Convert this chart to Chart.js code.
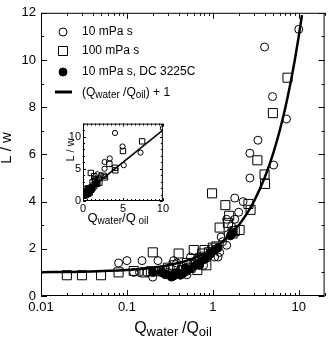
<!DOCTYPE html>
<html>
<head>
<meta charset="utf-8">
<script src="https://cdn.jsdelivr.net/npm/chart.js@4.4.0/dist/chart.umd.min.js"></script>
<style>
html, body { margin: 0; padding: 0; background: #fff; }
#wrap { position: relative; width: 332px; height: 338px; }
#main { position: absolute; left: 0; top: 0; }
#inset { position: absolute; left: 55px; top: 115px; }
</style>
</head>
<body>
<div id="wrap">
  <canvas id="main" width="332" height="338"></canvas>
  <canvas id="inset" width="115" height="115"></canvas>
</div>
<script>
// 10 mPa s (open circles)
const visc10X = [10, 4.0, 4.95, 7.2, 3.35, 2.7, 5.1, 2.7, 1.8, 2.25, 2.0, 1.45, 1.8, 1.65, 1.25, 1.45, 0.08, 0.1, 0.15, 0.23,
  0.2, 0.35, 0.5, 0.55, 0.12, 0.14, 0.17, 0.28, 0.3, 0.38, 0.45, 0.6, 0.7, 0.78, 0.85, 0.9, 1.05, 1.15, 1.2, 1.3,
  0.25, 0.32, 0.42, 0.65, 0.75, 1.0, 0.95, 1.1, 1.5, 1.7];
const visc10Y = [11.3, 10.55, 8.45, 7.5, 6.6, 6.05, 5.55, 5.0, 4.15, 4.0, 3.55, 3.25, 3.25, 2.95, 2.5, 2.15, 1.4, 1.5, 1.5, 1.5,
  0.8, 1.5, 0.9, 1.65, 1.0, 1.0, 1.0, 0.9, 1.0, 1.4, 1.25, 1.4, 1.3, 1.3, 1.6, 1.75, 1.65, 1.65, 1.85, 2.3,
  1.1, 1.2, 1.1, 1.55, 1.7, 1.9, 2.0, 2.0, 2.6, 2.7];

// 100 mPa s (open squares)
const visc100X = [0.02, 0.03, 0.05, 0.08, 0.12, 0.2, 0.16, 0.19, 0.23, 0.27, 0.4, 0.6, 0.44, 0.55, 0.66, 0.8, 0.84, 1.0, 0.98, 1.4,
  1.2, 1.5, 2.05, 2.75, 2.6, 3.3, 4.0, 4.05, 5.0, 7.4, 1.55, 1.7, 1.8, 0.5, 0.7, 0.9, 0.35, 0.3, 0.75, 1.1];
const visc100Y = [0.88, 0.88, 0.88, 1.0, 1.06, 1.85, 1.0, 1.05, 1.05, 1.05, 1.8, 1.95, 1.1, 1.2, 1.1, 1.95, 1.3, 2.05, 4.35, 3.85,
  2.9, 3.1, 2.8, 3.65, 3.9, 5.75, 5.15, 4.75, 7.75, 9.25, 3.4, 2.65, 2.75, 1.4, 1.6, 1.85, 1.3, 1.2, 1.8, 2.1];

// 10 mPa s, DC 3225C (filled circles)
const dcX = [0.33, 0.35, 0.42, 0.45, 0.3, 0.27, 0.38, 0.5, 0.55, 0.6, 0.65, 0.72, 0.8, 0.88, 0.95, 1.05, 1.15, 1.6, 1.7, 0.48, 0.7, 0.25, 0.2];
const dcY = [0.8, 0.85, 0.88, 0.95, 0.9, 0.95, 1.0, 1.05, 1.15, 1.25, 1.35, 1.45, 1.55, 1.7, 1.8, 1.95, 2.05, 2.55, 2.65, 1.2, 1.3, 1.0, 1.0];

// (Qwater/Qoil) + 1 curve
const lineX = [0.01, 0.03, 0.1, 0.2, 0.3, 0.5, 0.7, 1, 1.5, 2, 2.5, 3, 4, 5, 6, 7, 8, 9, 10, 10.9];
const lineY = [1.01, 1.03, 1.1, 1.2, 1.3, 1.5, 1.7, 2, 2.5, 3, 3.5, 4, 5, 6, 7, 8, 9, 10, 11, 11.9];
const insetLineX = [0, 10];
const insetLineY = [1, 11];

// tick labels
const mainXTicks = [0.01, 0.1, 1, 10];
const insetTicks = [0, 5, 10];
const legendLabels = ['10 mPa s', '100 mPa s', '10 mPa s, DC 3225C'];

const FONT = "'Liberation Sans', Arial, sans-serif";

let pts = (xs, ys) => xs.map((x, i) => ({x: x, y: ys[i]}));

// minor ticks for the log axis
let logMinor = [];
[0.01, 0.1, 1, 10].forEach(d => {
    for (let k = 2; k <= 9; k++) {
        if (d * k <= 20) logMinor.push(+(d * k).toPrecision(3));
    }
});
let range = (a, b, s) => { let r = []; for (let v = a; v <= b + 1e-9; v += s) r.push(+v.toFixed(3)); return r; };

// draws text made of pieces, some lowered and smaller (subscripts)
let drawRich = (ctx, parts, x, y, align) => {
    let w = 0;
    parts.forEach(p => { ctx.font = p[1] + 'px ' + FONT; w += ctx.measureText(p[0]).width; });
    let cx = align === 'center' ? x - w / 2 : x;
    ctx.textAlign = 'left';
    ctx.textBaseline = 'alphabetic';
    parts.forEach(p => {
        ctx.font = p[1] + 'px ' + FONT;
        ctx.fillText(p[0], cx, y + (p[2] || 0));
        cx += ctx.measureText(p[0]).width;
    });
};

// frame + inward ticks on all four sides, then titles / legend
const frameTicks = {
    id: 'frameTicks',
    afterDatasetsDraw(chart, args, o) {
        const {ctx, chartArea: a, scales: {x, y}} = chart;
        ctx.save();
        ctx.strokeStyle = '#000';
        ctx.fillStyle = '#000';
        ctx.lineWidth = 1;
        ctx.strokeRect(a.left + 0.5, a.top + 0.5, a.right - a.left - 1, a.bottom - a.top - 1);
        ctx.beginPath();
        let xt = (v, len) => {
            let p = Math.round(x.getPixelForValue(v)) + 0.5;
            ctx.moveTo(p, a.bottom); ctx.lineTo(p, a.bottom - len);
            ctx.moveTo(p, a.top); ctx.lineTo(p, a.top + len);
        };
        let yt = (v, len) => {
            let p = Math.round(y.getPixelForValue(v)) + 0.5;
            ctx.moveTo(a.left, p); ctx.lineTo(a.left + len, p);
            ctx.moveTo(a.right, p); ctx.lineTo(a.right - len, p);
        };
        o.xMajor.forEach(v => xt(v, o.major));
        o.xMinor.forEach(v => xt(v, o.minor));
        o.yMajor.forEach(v => yt(v, o.major));
        o.yMinor.forEach(v => yt(v, o.minor));
        ctx.stroke();

        // x title
        drawRich(ctx, o.xTitle, o.xTitlePos[0], o.xTitlePos[1], 'center');
        // y title, rotated
        ctx.save();
        ctx.translate(o.yTitlePos[0], o.yTitlePos[1]);
        ctx.rotate(-Math.PI / 2);
        ctx.font = o.yTitleSize + 'px ' + FONT;
        ctx.textAlign = 'center';
        ctx.textBaseline = 'alphabetic';
        ctx.fillText('L / w', 0, 0);
        ctx.restore();

        if (o.legend) {
            const rows = [32, 51, 72, 92];
            const sets = chart.data.datasets;
            for (let i = 0; i < 3; i++) {
                let ds = sets[i];
                ctx.strokeStyle = '#000';
                ctx.fillStyle = ds.backgroundColor;
                ctx.lineWidth = 1;
                Chart.helpers.drawPoint(ctx, {pointStyle: ds.pointStyle, radius: ds.pointRadius, borderWidth: 1, rotation: 0}, 63, rows[i]);
                ctx.fillStyle = '#000';
                ctx.font = '12px ' + FONT;
                ctx.textAlign = 'left';
                ctx.textBaseline = 'middle';
                ctx.fillText(legendLabels[i], 82, rows[i]);
            }
            ctx.beginPath();
            ctx.lineWidth = 3;
            ctx.moveTo(55, rows[3]); ctx.lineTo(72, rows[3]);
            ctx.stroke();
            drawRich(ctx, [['(Q', 12], ['water', 10, 2], [' /Q', 12], ['oil', 10, 2], [') + 1', 12]], 82, rows[3] + 4, 'left');
        }
        ctx.restore();
    }
};

let seriesSets = (r) => [
    {label: legendLabels[0], data: pts(visc10X, visc10Y), pointStyle: 'circle', pointRadius: r.circ,
     borderColor: '#000', backgroundColor: 'rgba(0,0,0,0)', pointBorderWidth: 1, showLine: false},
    {label: legendLabels[1], data: pts(visc100X, visc100Y), pointStyle: 'rect', pointRadius: r.rect,
     borderColor: '#000', backgroundColor: 'rgba(0,0,0,0)', pointBorderWidth: 1, showLine: false},
    {label: legendLabels[2], data: pts(dcX, dcY), pointStyle: 'circle', pointRadius: r.circ,
     borderColor: '#000', backgroundColor: '#000', pointBorderWidth: 1, showLine: false},
];

const noGrid = {display: false, drawTicks: false};

// main chart
new Chart(document.getElementById('main'), {
    type: 'scatter',
    data: {
        datasets: [...seriesSets({circ: 4, rect: 6.4}), {
            label: 'fit', data: pts(lineX, lineY), showLine: true, pointRadius: 0,
            borderColor: '#000', borderWidth: 2.5, cubicInterpolationMode: 'monotone', fill: false
        }]
    },
    options: {
        responsive: false,
        animation: false,
        layout: {padding: {top: 8, right: 2, left: 0, bottom: 0}},
        plugins: {
            legend: {display: false},
            tooltip: {enabled: false},
            frameTicks: {
                xMajor: mainXTicks, xMinor: logMinor, yMajor: range(0, 12, 2), yMinor: range(1, 11, 2),
                major: 6, minor: 3,
                xTitle: [['Q', 16], ['water ', 13, 3], ['/Q', 16], ['oil', 13, 3]], xTitlePos: [173, 333],
                yTitleSize: 15, yTitlePos: [11, 148],
                legend: true
            }
        },
        scales: {
            x: {
                type: 'logarithmic', min: 0.01, max: 20,
                grid: noGrid, border: {display: false},
                afterBuildTicks: s => { s.ticks = mainXTicks.map(v => ({value: v})); },
                afterFit: s => { s.height = 42; },
                ticks: {font: {family: FONT, size: 13}, color: '#000', padding: 4, maxRotation: 0, autoSkip: false,
                        callback: v => String(v)}
            },
            y: {
                min: 0, max: 12,
                grid: noGrid, border: {display: false},
                afterFit: s => { s.width = 41; },
                ticks: {stepSize: 2, font: {family: FONT, size: 13}, color: '#000', padding: 5}
            }
        }
    },
    plugins: [frameTicks]
});

// inset, linear axes
new Chart(document.getElementById('inset'), {
    type: 'scatter',
    data: {
        datasets: [...seriesSets({circ: 2.6, rect: 3.8}), {
            label: 'fit', data: pts(insetLineX, insetLineY), showLine: true, pointRadius: 0,
            borderColor: '#000', borderWidth: 1.5, fill: false
        }]
    },
    options: {
        responsive: false,
        animation: false,
        layout: {padding: {top: 7, right: 5, left: 0, bottom: 0}},
        plugins: {
            legend: {display: false},
            tooltip: {enabled: false},
            frameTicks: {
                xMajor: insetTicks, xMinor: range(0.5, 9.5, 0.5), yMajor: insetTicks, yMinor: range(1, 12, 1),
                major: 3, minor: 2,
                xTitle: [['Q', 13], ['water', 10, 2], ['/Q', 13], [' oil', 10, 2]], xTitlePos: [63, 107],
                yTitleSize: 11, yTitlePos: [19, 35],
                legend: false
            }
        },
        scales: {
            x: {
                min: 0, max: 10,
                grid: noGrid, border: {display: false},
                afterBuildTicks: s => { s.ticks = insetTicks.map(v => ({value: v})); },
                afterFit: s => { s.height = 29; },
                ticks: {font: {family: FONT, size: 11}, color: '#000', padding: 1, maxRotation: 0}
            },
            y: {
                min: 0, max: 12,
                grid: noGrid, border: {display: false},
                afterBuildTicks: s => { s.ticks = insetTicks.map(v => ({value: v})); },
                afterFit: s => { s.width = 28; },
                ticks: {font: {family: FONT, size: 11}, color: '#000', padding: 2}
            }
        }
    },
    plugins: [frameTicks]
});
</script>
</body>
</html>
